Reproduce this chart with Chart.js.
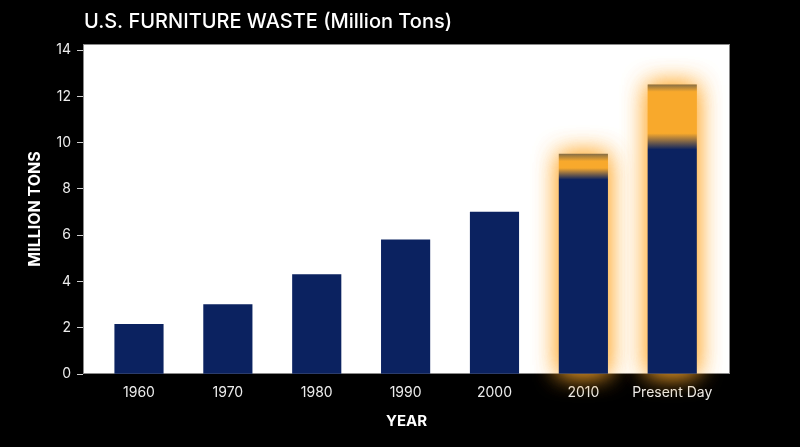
<!DOCTYPE html>
<html><head><meta charset="utf-8">
<script src="https://cdn.jsdelivr.net/npm/chart.js@4/dist/chart.umd.min.js"></script>
<style>html,body{margin:0;padding:0;background:#000;}#wrap{width:800px;height:447px;position:relative;}</style>
</head><body><div id="wrap"><canvas id="c"></canvas></div>
<script>
const categories = ['1960','1970','1980','1990','2000','2010','Present Day'];
const wasteValues = [2.15, 3.0, 4.3, 5.8, 7.0, 9.5, 12.5];
const glowSolidTo = [null, null, null, null, null, 8.9, 10.4];
const glowFadeTo = [null, null, null, null, null, 8.4, 9.7];
const yTicks = [0, 2, 4, 6, 8, 10, 12, 14];
const titleText = 'U.S. FURNITURE WASTE (Million Tons)';
const xTitle = 'YEAR';
const yTitle = 'MILLION TONS';

const NAVY = '#0b2260';
const ORANGE = '#f8a92c';
const FONT = 'Inter, "Noto Sans", sans-serif';

const bgPlugin = {
  id: 'bg',
  beforeDraw(chart) {
    const {ctx, chartArea: a, width, height} = chart;
    ctx.save();
    ctx.fillStyle = '#000';
    ctx.fillRect(0, 0, width, height);
    ctx.fillStyle = '#fff';
    ctx.fillRect(a.left, a.top, a.right - a.left, a.bottom - a.top);
    ctx.strokeStyle = '#8a8a8a';
    ctx.lineWidth = 1;
    ctx.strokeRect(a.left + 0.5, a.top + 0.5, a.right - a.left - 1, a.bottom - a.top - 1);
    ctx.restore();
  },
  beforeDatasetsDraw(chart) {
    const {ctx} = chart;
    const meta = chart.getDatasetMeta(0);
    ctx.save();
    meta.data.forEach((el, i) => {
      if (glowSolidTo[i] == null) return;
      const w = el.width, x = el.x - w / 2, y = el.y, h = el.base - el.y;
      ctx.shadowColor = 'rgba(255,170,45,0.95)';
      ctx.shadowBlur = 24;
      ctx.fillStyle = 'rgba(255,190,90,0.9)';
      ctx.fillRect(x, y, w, h);
      ctx.fillRect(x, y, w, h);
    });
    ctx.restore();
  },
  afterDraw(chart) {
    const {ctx} = chart;
    ctx.save();
    ctx.font = '500 20px ' + FONT;
    ctx.fillStyle = '#fff';
    ctx.textBaseline = 'alphabetic';
    ctx.textAlign = 'left';
    ctx.fillText(titleText, 84, 28);
    ctx.restore();
  }
};

function barColor(c) {
  const i = c.dataIndex;
  if (glowSolidTo[i] == null) return NAVY;
  const ys = c.chart.scales.y;
  if (!ys || !c.chart.chartArea) return NAVY;
  const top = ys.getPixelForValue(wasteValues[i]);
  const solid = ys.getPixelForValue(glowSolidTo[i]);
  const fade = ys.getPixelForValue(glowFadeTo[i]);
  const bottom = ys.getPixelForValue(0);
  const span = bottom - top;
  const g = c.chart.ctx.createLinearGradient(0, top, 0, bottom);
  g.addColorStop(0, '#8a7045');
  g.addColorStop(Math.min(1, 7 / span), ORANGE);
  g.addColorStop((solid - top) / span, ORANGE);
  g.addColorStop((fade - top) / span, NAVY);
  g.addColorStop(1, NAVY);
  return g;
}

new Chart(document.getElementById('c'), {
  type: 'bar',
  data: {
    datasets: [{
      data: wasteValues.map((v, i) => ({x: i, y: v})),
      backgroundColor: barColor,
      borderWidth: 0,
      barThickness: 48.5
    }]
  },
  options: {
    responsive: true,
    maintainAspectRatio: false,
    animation: false,
    devicePixelRatio: 1,
    layout: {padding: {left: 0, right: 70, top: 44, bottom: 0}},
    plugins: {legend: {display: false}, tooltip: {enabled: false}, title: {display: false}},
    scales: {
      x: {
        type: 'linear',
        min: -0.63,
        max: 6.65,
        offset: false,
        afterBuildTicks(s) { s.ticks = categories.map((_, i) => ({value: i})); },
        afterFit(s) { s.height = 73; },
        grid: {display: false, drawTicks: false, offset: false},
        border: {display: false},
        ticks: {
          color: '#ececec',
          font: {family: FONT, size: 14},
          padding: 10,
          autoSkip: false,
          maxRotation: 0,
          callback: (v) => categories[v]
        },
        title: {display: true, text: xTitle, color: '#fff', font: {family: FONT, size: 15, weight: 'bold'}, padding: {top: 17, bottom: 17}}
      },
      y: {
        min: 0,
        max: 14.26,
        afterBuildTicks(s) { s.ticks = yTicks.map(v => ({value: v})); },
        afterFit(s) { s.width = 83; },
        grid: {drawOnChartArea: false, tickLength: 6, color: '#d0d0d0', lineWidth: 1},
        border: {display: false},
        ticks: {color: '#ececec', font: {family: FONT, size: 14}, padding: 6},
        title: {display: true, text: yTitle, color: '#fff', font: {family: FONT, size: 16, weight: 'bold'}, padding: {top: 26, bottom: 0}}
      }
    }
  },
  plugins: [bgPlugin]
});
</script>
</body></html>
